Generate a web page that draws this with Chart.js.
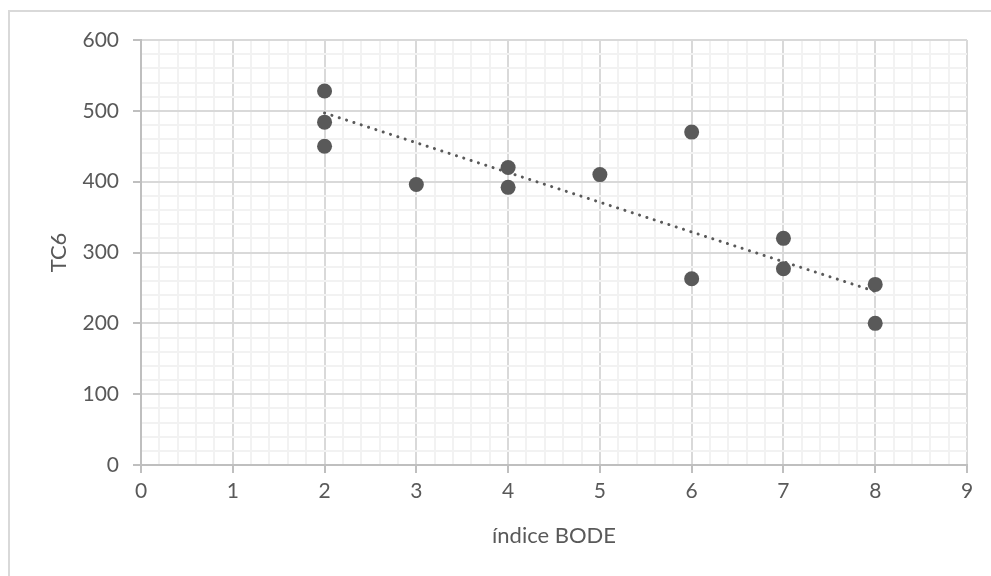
<!DOCTYPE html>
<html>
<head>
<meta charset="utf-8">
<script src="https://cdn.jsdelivr.net/npm/chart.js@4/dist/chart.umd.min.js"></script>
<style>
  html, body { margin: 0; padding: 0; background: #fff; }
  #wrap { position: absolute; left: 0; top: 0; width: 991px; height: 576px; }
  #frame { position: absolute; left: 8px; top: 10px; width: 1000px; height: 600px;
           border-top: 2px solid #d9d9d9; border-left: 2px solid #d9d9d9; }
  canvas { position: absolute; left: 0; top: 0; }
</style>
</head>
<body>
<div id="wrap">
  <div id="frame"></div>
  <canvas id="chart" width="991" height="576"></canvas>
</div>
<script>
// índice BODE vs TC6
const bodeIndex = [2, 2, 2, 3, 4, 4, 5, 6, 6, 7, 7, 8, 8];
const tc6Values = [528, 484, 450, 396, 420, 392, 410, 470, 263, 320, 277, 255, 200];

// trendline endpoints
const trendX = [2, 8];
const trendY = [497, 245];

const textColor = '#595959';
const fontFamily = 'Lato, "Open Sans", sans-serif';

function isWhole(v, step) {
    const r = v / step;
    return Math.abs(r - Math.round(r)) < 1e-6;
}

const ctx = document.getElementById('chart').getContext('2d');
const chart = new Chart(ctx, {
    type: 'scatter',
    data: {
        datasets: [
            {
                label: 'TC6',
                data: bodeIndex.map((x, i) => ({ x: x, y: tc6Values[i] })),
                backgroundColor: textColor,
                borderColor: textColor,
                pointRadius: 7.5,
                pointHoverRadius: 7.5,
                borderWidth: 0,
                order: 1
            },
            {
                label: 'Tendencia',
                type: 'line',
                data: trendX.map((x, i) => ({ x: x, y: trendY[i] })),
                borderColor: textColor,
                borderWidth: 3,
                borderDash: [0.1, 7.6],
                borderCapStyle: 'round',
                pointRadius: 0,
                fill: false,
                order: 0
            }
        ]
    },
    options: {
        responsive: false,
        animation: false,
        events: [],
        layout: { padding: { top: 40, right: 24, bottom: 27, left: 46 } },
        plugins: {
            legend: { display: false },
            tooltip: { enabled: false }
        },
        scales: {
            x: {
                type: 'linear',
                min: 0,
                max: 9,
                afterFit: (s) => { s.height = 576 - 465 - 27; },
                border: { display: true, color: '#bfbfbf', width: 2 },
                grid: {
                    color: (c) => isWhole(c.tick.value, 1) ? '#d9d9d9' : '#f2f2f2',
                    lineWidth: 2,
                    tickLength: 8,
                    tickColor: (c) => isWhole(c.tick.value, 1) ? '#bfbfbf' : 'rgba(0,0,0,0)'
                },
                ticks: {
                    stepSize: 0.2,
                    autoSkip: false,
                    maxRotation: 0,
                    color: textColor,
                    font: { family: fontFamily, size: 21 },
                    padding: 6,
                    callback: (v) => isWhole(v, 1) ? String(Math.round(v)) : ''
                },
                title: {
                    display: true,
                    text: 'índice BODE',
                    color: textColor,
                    font: { family: fontFamily, size: 22 },
                    padding: { top: 10, bottom: 0 }
                }
            },
            y: {
                min: 0,
                max: 600,
                afterFit: (s) => { s.width = 141 - 46; },
                border: { display: true, color: '#bfbfbf', width: 2 },
                grid: {
                    color: (c) => isWhole(c.tick.value, 100) ? '#d9d9d9' : '#f2f2f2',
                    lineWidth: 2,
                    tickLength: 8,
                    tickColor: (c) => isWhole(c.tick.value, 100) ? '#bfbfbf' : 'rgba(0,0,0,0)'
                },
                ticks: {
                    stepSize: 20,
                    autoSkip: false,
                    color: textColor,
                    font: { family: fontFamily, size: 21 },
                    padding: 14,
                    callback: (v) => isWhole(v, 100) ? String(Math.round(v)) : ''
                },
                title: {
                    display: true,
                    text: 'TC6',
                    color: textColor,
                    font: { family: fontFamily, size: 22 },
                    padding: { top: 0, bottom: 0 }
                }
            }
        }
    }
});
</script>
</body>
</html>
